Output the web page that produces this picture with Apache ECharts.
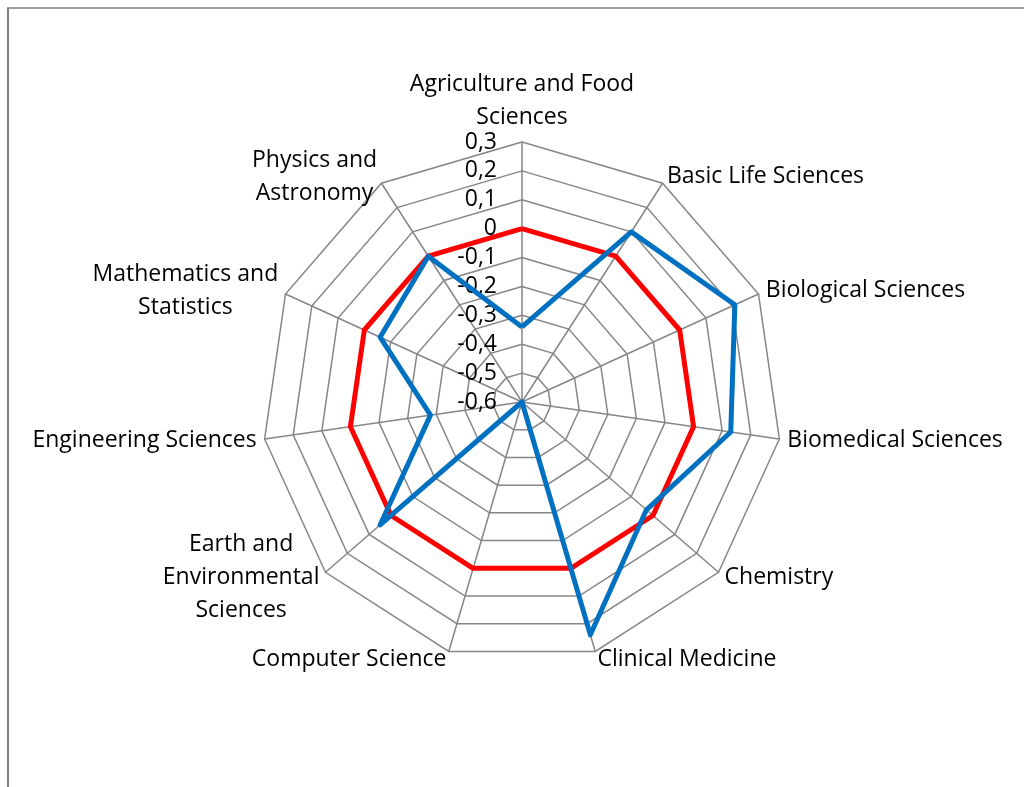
<!DOCTYPE html>
<html>
<head>
<meta charset="utf-8">
<script src="https://cdn.jsdelivr.net/npm/echarts@6/dist/echarts.min.js"></script>
<style>
  html, body { margin: 0; padding: 0; background: #fff; }
  #chart { width: 1024px; height: 787px; }
</style>
</head>
<body>
<div id="chart"></div>
<script>
// categories, clockwise from the top
const categories = [
  'Agriculture and Food\nSciences',
  'Basic Life Sciences',
  'Biological Sciences',
  'Biomedical Sciences',
  'Chemistry',
  'Clinical Medicine',
  'Computer Science',
  'Earth and\nEnvironmental\nSciences',
  'Engineering Sciences',
  'Mathematics and\nStatistics',
  'Physics and\nAstronomy'
]
// red reference line (all zero)
const baseValues = [0, 0, 0, 0, 0, 0, 0, 0, 0, 0, 0]
// blue line
const blueValues = [-0.34, 0.1, 0.21, 0.13, -0.03, 0.24, -0.6, 0.05, -0.28, -0.06, 0]
// tick labels of the value axis
const tickValues = [-0.6, -0.5, -0.4, -0.3, -0.2, -0.1, 0, 0.1, 0.2, 0.3]

const axisMin = -0.6
const axisMax = 0.3
const cx = 522, cy = 402, radius = 260

// echarts draws radar indicators counter-clockwise, so keep the first one and reverse the rest
const order = [0].concat(categories.map((c, i) => i).slice(1).reverse())
const reorder = arr => order.map(i => arr[i])

const chart = echarts.init(document.getElementById('chart'))
const font = 'Open Sans'

const option = {
  animation: false,
  backgroundColor: '#fff',
  textStyle: { fontFamily: font },
  graphic: [
    { type: 'line', shape: { x1: 7, y1: 8, x2: 1024, y2: 8 }, style: { stroke: '#808080', lineWidth: 1.5 } },
    { type: 'line', shape: { x1: 8, y1: 8, x2: 8, y2: 787 }, style: { stroke: '#808080', lineWidth: 2 } }
  ],
  radar: {
    center: [cx, cy],
    radius: radius,
    shape: 'polygon',
    splitNumber: 9,
    startAngle: 90,
    indicator: reorder(categories).map(name => ({ name: name, min: axisMin, max: axisMax })),
    axisName: {
      color: '#000',
      fontFamily: font,
      fontSize: 23,
      lineHeight: 33,
      formatter: v => v.split('\n').map(l => '{c|' + l + '}').join('\n'),
      rich: {
        c: { fontFamily: font, fontSize: 23, lineHeight: 33, color: '#000', align: 'center' }
      }
    },
    nameGap: 8,
    axisLine: { lineStyle: { color: '#868686', width: 1.5 } },
    splitLine: { lineStyle: { color: '#868686', width: 1.5 } },
    splitArea: { show: false },
    axisTick: { show: false },
    axisLabel: { show: false }
  },
  // value labels along the top axis
  grid: { left: cx, width: 1, top: cy - radius, height: radius, show: false },
  xAxis: { type: 'value', show: false },
  yAxis: {
    type: 'value',
    min: axisMin,
    max: axisMax,
    interval: 0.1,
    position: 'left',
    axisLine: { show: false },
    axisTick: { show: false },
    splitLine: { show: false },
    axisLabel: {
      margin: 25,
      fontFamily: font,
      fontSize: 23,
      color: '#000',
      verticalAlign: 'middle',
      padding: [6, 0, 0, 0],
      formatter: v => {
        const t = tickValues.find(x => Math.abs(x - v) < 1e-6)
        if (t === undefined) return ''
        return (Math.round(t * 10) / 10).toString().replace('.', ',')
      }
    }
  },
  series: [
    {
      type: 'radar',
      symbol: 'none',
      lineStyle: { color: '#FF0000', width: 5 },
      itemStyle: { color: '#FF0000' },
      data: [{ value: reorder(baseValues) }]
    },
    {
      type: 'radar',
      symbol: 'none',
      lineStyle: { color: '#0070C0', width: 5 },
      itemStyle: { color: '#0070C0' },
      data: [{ value: reorder(blueValues) }]
    }
  ]
}
chart.setOption(option)
</script>
</body>
</html>
